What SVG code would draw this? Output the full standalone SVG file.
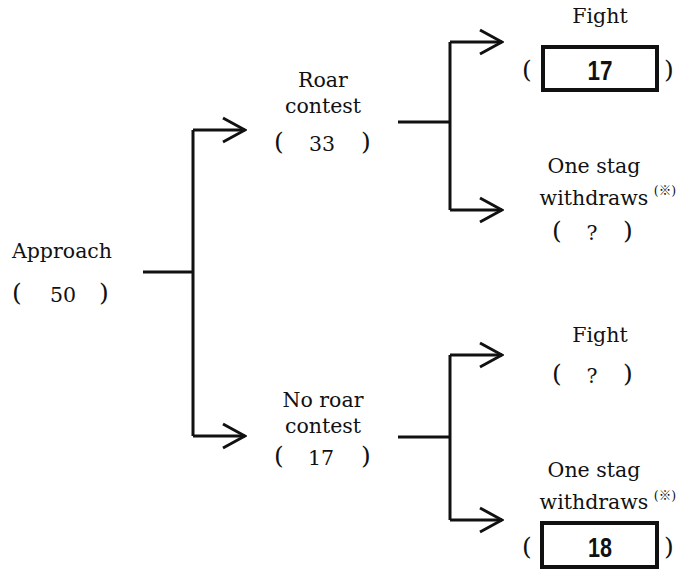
<svg xmlns="http://www.w3.org/2000/svg" width="684" height="572" viewBox="0 0 684 572">
<defs>
<style>
.t{font-family:"DejaVu Serif","Liberation Serif",serif;font-size:20.5px;fill:#111;text-anchor:middle}
.p{font-family:"DejaVu Serif","Liberation Serif",serif;font-size:25px;fill:#111;text-anchor:middle}
.n{font-family:"DejaVu Serif","Liberation Serif",serif;font-size:20.5px;fill:#111;text-anchor:middle}
.s{font-family:"DejaVu Serif","Noto Sans CJK JP",serif;font-size:12.5px;fill:#111;text-anchor:middle}
.b{font-family:"Liberation Sans",Arial,sans-serif;font-size:27px;font-weight:bold;fill:#111;text-anchor:middle}
.box{fill:none;stroke:#111;stroke-width:4}
.ln{fill:none;stroke:#111;stroke-width:3}
</style>
<marker id="chev" viewBox="0 0 26 28" refX="24" refY="14" markerWidth="26" markerHeight="28" markerUnits="userSpaceOnUse" orient="auto">
<path d="M2,2 L24,14 L2,26" fill="none" stroke="#111" stroke-width="3"/>
</marker>
</defs>
<rect width="684" height="572" fill="#fff"/>
<g id="connectors" class="ln">
<path d="M143 272 H193"/>
<path d="M193 130 V436"/>
<path d="M193 130 H245" marker-end="url(#chev)"/>
<path d="M193 436 H245" marker-end="url(#chev)"/>
<path d="M398 122 H450"/>
<path d="M450 42 V210"/>
<path d="M450 42 H502" marker-end="url(#chev)"/>
<path d="M450 210 H502" marker-end="url(#chev)"/>
<path d="M398 437 H450"/>
<path d="M450 355 V520"/>
<path d="M450 355 H502" marker-end="url(#chev)"/>
<path d="M450 520 H502" marker-end="url(#chev)"/>
</g>
<g id="approach">
<text class="t" x="62" y="258">Approach</text>
<text class="p" x="17" y="301">(</text>
<text class="n" x="63" y="302">50</text>
<text class="p" x="104" y="301">)</text>
</g>
<g id="roar">
<text class="t" x="323" y="87">Roar</text>
<text class="t" x="323" y="113">contest</text>
<text class="p" x="279" y="150">(</text>
<text class="n" x="322" y="151">33</text>
<text class="p" x="366" y="150">)</text>
</g>
<g id="noroar">
<text class="t" x="323" y="407">No roar</text>
<text class="t" x="323" y="433">contest</text>
<text class="p" x="279" y="464">(</text>
<text class="n" x="321" y="465">17</text>
<text class="p" x="366" y="464">)</text>
</g>
<g id="fight1">
<text class="t" x="600" y="23">Fight</text>
<text class="p" x="527" y="78">(</text>
<rect class="box" x="543" y="47" width="114" height="43"/>
<text class="b" x="600" y="80" textLength="25" lengthAdjust="spacingAndGlyphs">17</text>
<text class="p" x="669" y="78">)</text>
</g>
<g id="withdraw1">
<text class="t" x="594" y="173">One stag</text>
<text class="t" x="594" y="205">withdraws</text>
<text class="s" x="665" y="195">(※)</text>
<text class="p" x="557" y="239">(</text>
<text class="n" x="592" y="240">?</text>
<text class="p" x="628" y="239">)</text>
</g>
<g id="fight2">
<text class="t" x="600" y="342">Fight</text>
<text class="p" x="557" y="382">(</text>
<text class="n" x="592" y="383">?</text>
<text class="p" x="628" y="382">)</text>
</g>
<g id="withdraw2">
<text class="t" x="594" y="477">One stag</text>
<text class="t" x="594" y="509">withdraws</text>
<text class="s" x="665" y="500">(※)</text>
<text class="p" x="527" y="555">(</text>
<rect class="box" x="542" y="523" width="115" height="44"/>
<text class="b" x="600" y="557" textLength="24" lengthAdjust="spacingAndGlyphs">18</text>
<text class="p" x="669" y="555">)</text>
</g>
</svg>
